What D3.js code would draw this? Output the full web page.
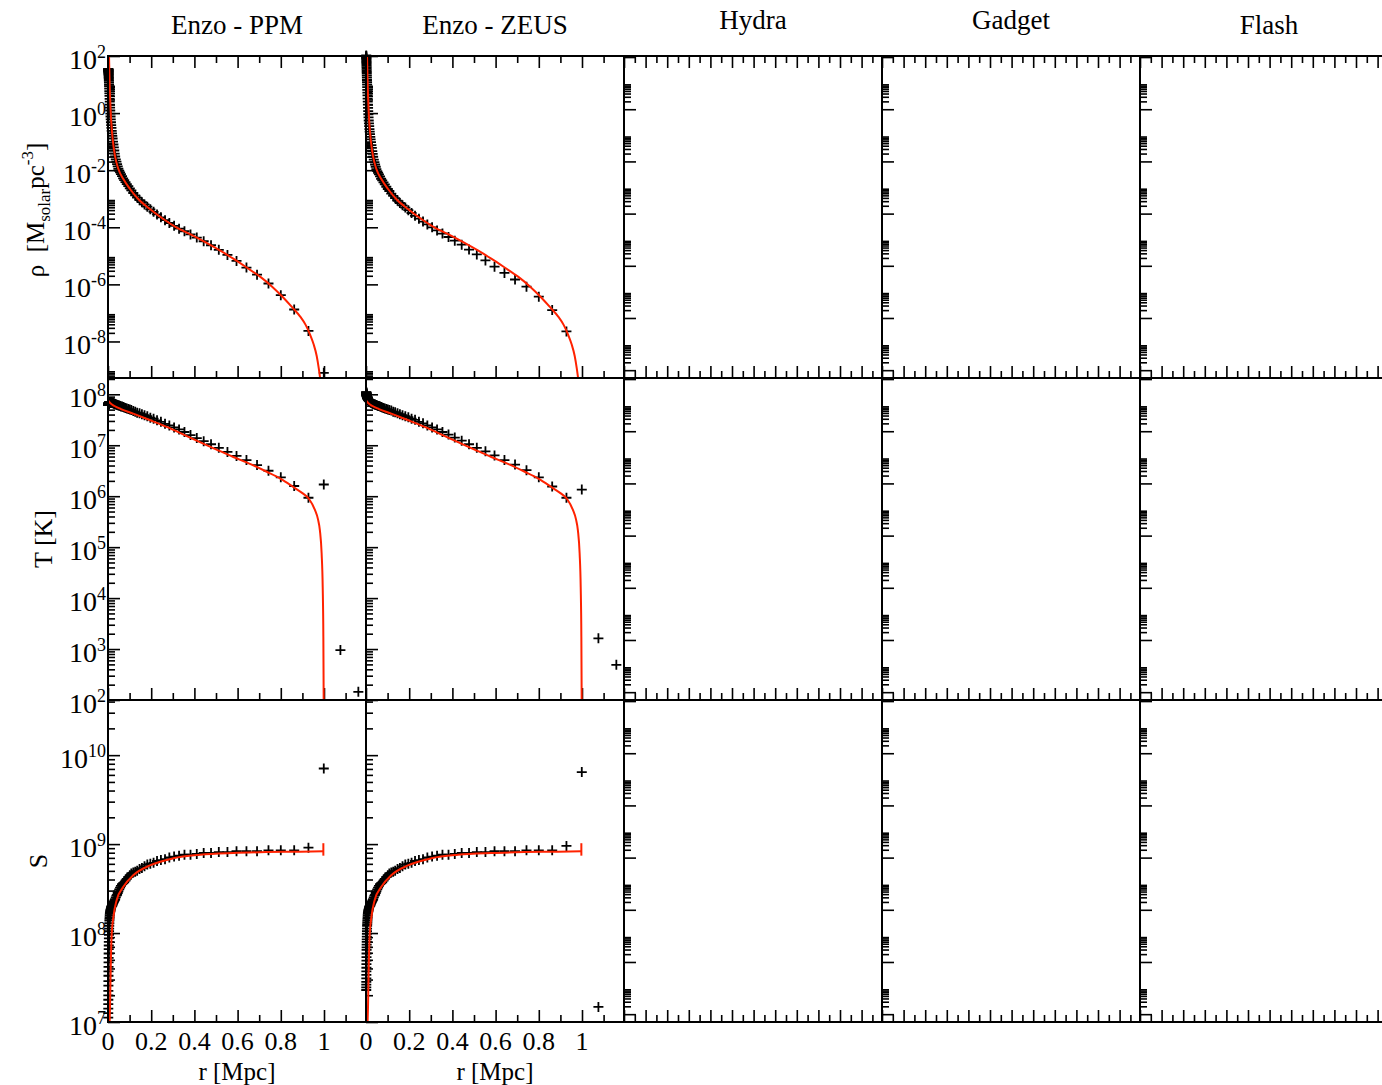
<!DOCTYPE html>
<html>
<head>
<meta charset="utf-8">
<script src="https://cdn.jsdelivr.net/npm/d3@7"></script>
<style>
  body { margin: 0; background: #fff; }
  text { font-family: "Liberation Serif", "Times New Roman", serif; fill: #000; }
</style>
</head>
<body>
<svg id="chart" width="1382" height="1085"></svg>
<script>
// ---- data (log10 of the quantity) ----
const codes = ["Enzo - PPM", "Enzo - ZEUS", "Hydra", "Gadget", "Flash"];

// radii of the binned simulation points [Mpc]
const rPts = [0.0011, 0.0012, 0.0013, 0.0014, 0.0015, 0.0016, 0.0017, 0.0019, 0.0020, 0.0022,
  0.0023, 0.0025, 0.0027, 0.0029, 0.0031, 0.0034, 0.0036, 0.0039, 0.0042, 0.0045,
  0.0049, 0.0052, 0.0056, 0.0061, 0.0065, 0.0070, 0.0076, 0.0082, 0.0088, 0.0095,
  0.0102, 0.0110, 0.0118, 0.0127, 0.0137, 0.0147, 0.0159, 0.0171, 0.0184, 0.0198,
  0.0213, 0.023, 0.025, 0.027, 0.029, 0.031, 0.033, 0.036, 0.039, 0.042,
  0.045, 0.048, 0.052, 0.056, 0.060, 0.065, 0.070, 0.075, 0.081, 0.087,
  0.094, 0.101, 0.108, 0.117, 0.126, 0.135, 0.146, 0.157, 0.169, 0.182,
  0.196, 0.211, 0.227, 0.245, 0.264, 0.284, 0.306, 0.329, 0.354, 0.382,
  0.411, 0.443, 0.477, 0.513, 0.553, 0.595, 0.641, 0.690, 0.743, 0.800,
  0.862, 0.928, 0.999, 1.076, 1.159];

// log10 density [Msolar pc^-3]
const rhoPPM = [1.55, 1.54, 1.53, 1.52, 1.51, 1.50, 1.49, 1.47, 1.46, 1.44,
  1.42, 1.40, 1.37, 1.34, 1.31, 1.27, 1.23, 1.18, 1.13, 1.07,
  1.00, 0.94, 0.86, 0.77, 0.69, 0.60, 0.50, 0.40, 0.30, 0.19,
  0.09, -0.02, -0.12, -0.22, -0.32, -0.42, -0.52, -0.62, -0.71, -0.80,
  -0.89, -1.00, -1.10, -1.20, -1.31, -1.42, -1.52, -1.62, -1.70, -1.79,
  -1.87, -1.95, -2.02, -2.08, -2.14, -2.21, -2.29, -2.35, -2.42, -2.49,
  -2.56, -2.64, -2.71, -2.80, -2.88, -2.96, -3.05, -3.12, -3.20, -3.28,
  -3.37, -3.46, -3.55, -3.65, -3.75, -3.85, -3.95, -4.05, -4.14, -4.25,
  -4.36, -4.49, -4.63, -4.79, -4.97, -5.18, -5.41, -5.66, -5.97, -6.38,
  -6.88, -7.63, -9.10, null, null];
const rhoZEUS = [2.02, 2.00, 1.98, 1.96, 1.93, 1.90, 1.87, 1.83, 1.79, 1.75,
  1.71, 1.66, 1.61, 1.56, 1.50, 1.44, 1.38, 1.31, 1.24, 1.16,
  1.08, 1.00, 0.91, 0.81, 0.72, 0.62, 0.51, 0.40, 0.30, 0.18,
  0.07, -0.04, -0.15, -0.26, -0.36, -0.46, -0.56, -0.65, -0.74, -0.83,
  -0.92, -1.02, -1.12, -1.22, -1.33, -1.43, -1.53, -1.63, -1.72, -1.80,
  -1.88, -1.96, -2.03, -2.09, -2.15, -2.22, -2.30, -2.36, -2.43, -2.50,
  -2.58, -2.66, -2.73, -2.82, -2.90, -2.98, -3.07, -3.15, -3.23, -3.31,
  -3.40, -3.50, -3.60, -3.70, -3.80, -3.90, -4.00, -4.11, -4.22, -4.34,
  -4.47, -4.61, -4.78, -4.95, -5.16, -5.38, -5.60, -5.83, -6.08, -6.43,
  -6.90, -7.65, null, null, null];

// log10 temperature [K]
const tempPPM = [7.79, 7.79, 7.79, 7.80, 7.80, 7.80, 7.80, 7.81, 7.81, 7.81,
  7.81, 7.82, 7.82, 7.82, 7.82, 7.83, 7.83, 7.83, 7.83, 7.83,
  7.84, 7.84, 7.84, 7.84, 7.84, 7.84, 7.84, 7.84, 7.84, 7.84,
  7.84, 7.84, 7.84, 7.84, 7.84, 7.84, 7.84, 7.83, 7.83, 7.83,
  7.83, 7.83, 7.82, 7.82, 7.82, 7.81, 7.81, 7.80, 7.80, 7.79,
  7.79, 7.78, 7.78, 7.77, 7.76, 7.76, 7.75, 7.74, 7.73, 7.72,
  7.71, 7.70, 7.69, 7.67, 7.66, 7.64, 7.63, 7.61, 7.59, 7.57,
  7.54, 7.52, 7.49, 7.46, 7.42, 7.39, 7.35, 7.31, 7.26, 7.20,
  7.14, 7.08, 7.02, 6.95, 6.87, 6.79, 6.71, 6.61, 6.50, 6.37,
  6.20, 5.97, 6.23, 2.98, 2.16];
const tempZEUS = [8.04, 8.04, 8.03, 8.03, 8.02, 8.02, 8.01, 8.01, 8.00, 8.00,
  7.99, 7.99, 7.98, 7.98, 7.97, 7.97, 7.96, 7.96, 7.95, 7.95,
  7.94, 7.94, 7.93, 7.93, 7.92, 7.92, 7.91, 7.91, 7.90, 7.90,
  7.89, 7.89, 7.88, 7.88, 7.87, 7.87, 7.86, 7.86, 7.85, 7.85,
  7.84, 7.84, 7.83, 7.83, 7.82, 7.82, 7.81, 7.81, 7.80, 7.80,
  7.79, 7.79, 7.78, 7.77, 7.77, 7.76, 7.75, 7.74, 7.73, 7.72,
  7.71, 7.70, 7.69, 7.68, 7.66, 7.65, 7.63, 7.61, 7.59, 7.57,
  7.55, 7.52, 7.50, 7.46, 7.43, 7.39, 7.35, 7.31, 7.26, 7.21,
  7.15, 7.09, 7.02, 6.95, 6.88, 6.80, 6.71, 6.62, 6.51, 6.37,
  6.19, 5.97, 6.13, 3.21, 2.69];

// log10 entropy S
const entPPM = [7.05, 7.10, 7.15, 7.20, 7.25, 7.30, 7.35, 7.41, 7.46, 7.52,
  7.57, 7.62, 7.67, 7.72, 7.77, 7.82, 7.86, 7.90, 7.94, 7.98,
  8.02, 8.05, 8.08, 8.11, 8.14, 8.16, 8.18, 8.20, 8.22, 8.23,
  8.24, 8.25, 8.26, 8.27, 8.28, 8.29, 8.30, 8.30, 8.31, 8.31,
  8.32, 8.33, 8.34, 8.35, 8.36, 8.37, 8.38, 8.40, 8.42, 8.43,
  8.45, 8.47, 8.49, 8.51, 8.53, 8.55, 8.56, 8.57, 8.59, 8.61,
  8.63, 8.65, 8.67, 8.68, 8.69, 8.70, 8.72, 8.73, 8.75, 8.77,
  8.78, 8.79, 8.81, 8.82, 8.83, 8.85, 8.86, 8.87, 8.88, 8.88,
  8.89, 8.90, 8.90, 8.91, 8.91, 8.92, 8.92, 8.92, 8.93, 8.93,
  8.93, 8.96, 9.85, null, null];
const entZEUS = [7.36, 7.39, 7.42, 7.45, 7.49, 7.53, 7.57, 7.61, 7.65, 7.69,
  7.73, 7.77, 7.81, 7.84, 7.87, 7.90, 7.93, 7.96, 7.99, 8.02,
  8.05, 8.08, 8.10, 8.12, 8.14, 8.16, 8.18, 8.20, 8.22, 8.23,
  8.24, 8.25, 8.26, 8.27, 8.28, 8.29, 8.30, 8.30, 8.31, 8.31,
  8.32, 8.33, 8.34, 8.35, 8.36, 8.37, 8.38, 8.40, 8.42, 8.43,
  8.45, 8.47, 8.49, 8.51, 8.53, 8.55, 8.56, 8.57, 8.59, 8.61,
  8.63, 8.65, 8.67, 8.68, 8.69, 8.70, 8.72, 8.73, 8.75, 8.77,
  8.78, 8.79, 8.81, 8.82, 8.83, 8.85, 8.86, 8.87, 8.88, 8.88,
  8.89, 8.90, 8.90, 8.91, 8.91, 8.92, 8.92, 8.92, 8.93, 8.93,
  8.93, 8.98, 9.81, 7.17, null];

// analytic solution (red curves), log10 values
const rRhoLine = [0.003, 0.005, 0.007, 0.009, 0.012, 0.016, 0.0216, 0.0324, 0.048, 0.071,
  0.102, 0.14, 0.194, 0.256, 0.318, 0.38, 0.45, 0.52, 0.58, 0.64,
  0.704, 0.76, 0.81, 0.85, 0.889, 0.915, 0.935, 0.952, 0.966, 0.976, 0.984];
const rhoLine = [2.6, 1.9, 1.25, 0.7, 0.1, -0.42, -0.91, -1.5, -1.96, -2.31,
  -2.66, -3.01, -3.36, -3.71, -4.01, -4.24, -4.52, -4.82, -5.1, -5.4,
  -5.73, -6.08, -6.45, -6.78, -7.12, -7.42, -7.75, -8.1, -8.5, -8.95, -9.4];
const rTempLine = [0.0, 0.01, 0.03, 0.06, 0.117, 0.19, 0.272, 0.35, 0.426, 0.5,
  0.58, 0.66, 0.735, 0.8, 0.858, 0.9, 0.93, 0.958, 0.972, 0.981,
  0.989, 0.994, 0.997, 0.9985, 0.999];
const tempLine = [7.88, 7.83, 7.77, 7.71, 7.62, 7.5, 7.36, 7.21, 7.06, 6.92,
  6.77, 6.63, 6.48, 6.34, 6.18, 6.06, 5.95, 5.73, 5.55, 5.33,
  4.88, 4.22, 3.24, 2.0, 1.6];
const rEntLine = [0.0068, 0.0093, 0.0123, 0.017, 0.025, 0.04, 0.071, 0.117, 0.194, 0.302,
  0.426, 0.58, 0.735, 0.889, 0.997];
const entLine = [6.95, 7.17, 7.58, 7.98, 8.18, 8.37, 8.52, 8.65, 8.76, 8.84,
  8.88, 8.9, 8.91, 8.915, 8.92];
const rEntCap = [0.997, 0.997];
const entCap = [8.87, 9.01];

// tick labels
const xTickVals = [0, 0.2, 0.4, 0.6, 0.8, 1];
const xTickText = ["0", "0.2", "0.4", "0.6", "0.8", "1"];
const rhoTickExp = [2, 0, -2, -4, -6, -8];
const tempTickExp = [2, 3, 4, 5, 6, 7, 8];
const entTickExp = [7, 8, 9, 10];

// ---- layout ----
const colLeft = [108, 366, 624, 882, 1140];
const rowTop = [56, 378, 700];
const pw = 258, ph = 322;
const red = "#ff2200";

const svg = d3.select("#chart");
const x = d3.scaleLinear().domain([0, pw / 216]).range([0, pw]);

const rows = [
  { y: d3.scaleLog().domain([10 ** -9.28, 100]).range([ph, 0]), step: 2, exps: rhoTickExp,
    data: [rhoPPM, rhoZEUS], line: [[rRhoLine, rhoLine]] },
  { y: d3.scaleLog().domain([100, 10 ** 8.32]).range([ph, 0]), step: 1, exps: tempTickExp,
    data: [tempPPM, tempZEUS], line: [[rTempLine, tempLine]] },
  { y: d3.scaleLog().domain([1e7, 10 ** 10.62]).range([ph, 0]), step: 1, exps: entTickExp,
    data: [entPPM, entZEUS], line: [[rEntLine, entLine], [rEntCap, entCap]] }
];
const emptyY = d3.scaleLog().domain([10 ** -12.3, 10 ** 0.04]).range([ph, 0]);

// major ticks every `step` decades, minor ticks at 2..9 x each major (xmgrace style)
function logTicks(scale, step) {
  const [lo, hi] = scale.domain().map(Math.log10);
  const major = [], minor = [];
  for (let e = Math.floor(lo / step) * step; e <= hi + 1e-9; e += step) {
    if (e >= lo - 1e-9) major.push(10 ** e);
    for (let k = 2; k <= 9; k++) {
      const v = k * 10 ** e;
      if (Math.log10(v) >= lo && Math.log10(v) <= hi) minor.push(v);
    }
  }
  return { major, minor };
}

function tickAxis(g, axis, vals, size) {
  g.append("g")
    .call(axis.tickValues(vals).tickSize(-size).tickSizeOuter(0).tickFormat(""))
    .call(a => a.select(".domain").remove())
    .selectAll("line").attr("stroke", "#000").attr("stroke-width", 1.6);
}

function supLabel(t, exp, subSize) {
  t.text("10");
  t.append("tspan").attr("dy", -11).attr("font-size", subSize).text(exp);
}

rows.forEach((row, ri) => {
  colLeft.forEach((cx, ci) => {
    const real = ci < 2;
    const y = real ? row.y : emptyY;
    const g = svg.append("g").attr("transform", `translate(${cx},${rowTop[ri]})`);

    const clipId = `clip-${ri}-${ci}`;
    g.append("clipPath").attr("id", clipId)
      .append("rect").attr("width", pw).attr("height", ph);

    // y ticks (inward)
    const yt = logTicks(y, real ? row.step : 2);
    tickAxis(g, d3.axisLeft(y), yt.major, 12);
    tickAxis(g, d3.axisLeft(y), yt.minor, 7);

    // x ticks (inward), bottom always, top on first row
    const xMaj = real ? d3.range(0, 1.19, 0.2) : d3.range(0, 1.19, 0.1);
    const xMin = real ? d3.range(0.1, 1.19, 0.2) : d3.range(0.05, 1.19, 0.1);
    const bot = g.append("g").attr("transform", `translate(0,${ph})`);
    tickAxis(bot, d3.axisBottom(x), xMaj, 12);
    tickAxis(bot, d3.axisBottom(x), xMin, 7);
    if (ri === 0) {
      tickAxis(g, d3.axisTop(x), xMaj, 12);
      tickAxis(g, d3.axisTop(x), xMin, 7);
    }

    if (real) {
      // simulation points
      const pts = rPts.map((r, i) => [r, row.data[ci][i]]).filter(d => d[1] !== null);
      g.append("g").selectAll("path").data(pts).join("path")
        .attr("d", "M-5,0H5M0,-5V5")
        .attr("transform", d => `translate(${x(d[0])},${y(10 ** d[1])})`)
        .attr("stroke", "#000").attr("stroke-width", 1.8).attr("fill", "none");

      // analytic curve
      const lineGen = d3.line().x(d => x(d[0])).y(d => y(10 ** d[1])).curve(d3.curveMonotoneX);
      row.line.forEach(([rs, vs]) => {
        g.append("path")
          .datum(rs.map((r, i) => [r, vs[i]]))
          .attr("clip-path", `url(#${clipId})`)
          .attr("d", lineGen)
          .attr("fill", "none").attr("stroke", red).attr("stroke-width", 2);
      });
    }

    // y tick labels on first column
    if (ci === 0) {
      row.exps.forEach(e => {
        const t = g.append("text")
          .attr("x", -2).attr("y", y(10 ** e) + 13)
          .attr("text-anchor", "end").attr("font-size", 28);
        supLabel(t, e, 18);
      });
    }

    // x tick labels + axis title on bottom row of the two code columns
    if (ri === 2 && real) {
      xTickVals.forEach((v, i) => {
        g.append("text").attr("x", x(v)).attr("y", ph + 28)
          .attr("text-anchor", "middle").attr("font-size", 26).text(xTickText[i]);
      });
      g.append("text").attr("x", pw / 2).attr("y", ph + 58)
        .attr("text-anchor", "middle").attr("font-size", 25).text("r [Mpc]");
    }

    g.append("rect").attr("width", pw).attr("height", ph)
      .attr("fill", "none").attr("stroke", "#000").attr("stroke-width", 2);
  });
});

// column titles
const titleBase = [34, 34, 29, 29, 34];
codes.forEach((c, i) => {
  svg.append("text").attr("x", colLeft[i] + pw / 2).attr("y", titleBase[i])
    .attr("text-anchor", "middle").attr("font-size", 27).text(c);
});

// y axis titles
const rhoTitle = svg.append("text")
  .attr("transform", "translate(44,210) rotate(-90)")
  .attr("text-anchor", "middle").attr("font-size", 25);
rhoTitle.append("tspan").text("\u03c1\u00a0\u00a0[M");
rhoTitle.append("tspan").attr("dy", 6).attr("font-size", 17).text("solar");
rhoTitle.append("tspan").attr("dy", -6).text("pc");
rhoTitle.append("tspan").attr("dy", -11).attr("font-size", 17).text("-3");
rhoTitle.append("tspan").attr("dy", 11).text("]");

svg.append("text").attr("transform", "translate(52,539) rotate(-90)")
  .attr("text-anchor", "middle").attr("font-size", 26).text("T [K]");
svg.append("text").attr("transform", "translate(47,861) rotate(-90)")
  .attr("text-anchor", "middle").attr("font-size", 26).text("S");
</script>
</body>
</html>
